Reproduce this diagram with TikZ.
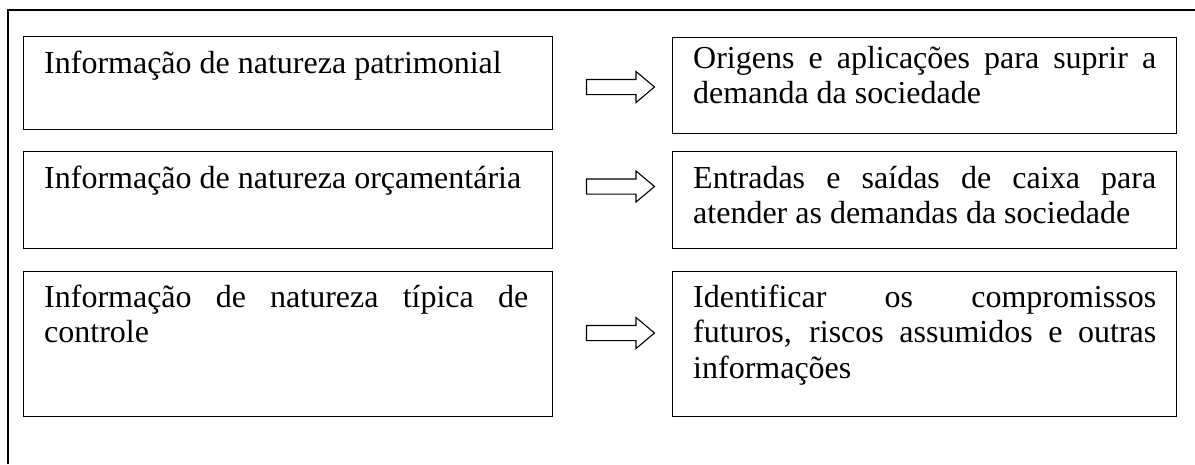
\documentclass[tikz,border=0pt]{standalone}
\usepackage{fontspec}
\setmainfont{Liberation Serif}
\usetikzlibrary{shapes.arrows}
\begin{document}
\begin{tikzpicture}[x=1pt,y=-1pt,
  frame/.style={line width=1.5pt},
  box/.style={draw, line width=1.4pt, inner sep=0pt, anchor=north west},
  txt/.style={inner sep=0pt, anchor=base west, font=\fontsize{32}{35.5}\selectfont, align=justify},
  blockarrow/.style={single arrow, draw, line width=1.1pt, inner xsep=0pt, inner ysep=7pt,
    minimum height=68pt, single arrow head extend=8pt, single arrow tip angle=80}]
\useasboundingbox (0,0) rectangle (1195,464);
\draw[frame] (8,464) -- (8,10) -- (1195,10);
% left boxes
\node[box, minimum width=529pt, minimum height=93pt] (l1) at (23,36) {};
\node[box, minimum width=529pt, minimum height=97pt] (l2) at (23,151) {};
\node[box, minimum width=529pt, minimum height=145pt] (l3) at (23,271) {};
% right boxes
\node[box, minimum width=504pt, minimum height=96pt] (r1) at (672,37) {};
\node[box, minimum width=504pt, minimum height=97pt] (r2) at (672,151) {};
\node[box, minimum width=504pt, minimum height=145pt] (r3) at (672,271) {};
% texts
\node[txt, text width=484pt] (l1t) at ([shift={(21,37)}]l1.north west) {Informação de natureza patrimonial};
\node[txt, text width=484pt] (l2t) at ([shift={(21,37)}]l2.north west) {Informação de natureza orçamentária};
\node[txt, text width=484pt] (l3t) at ([shift={(21,36)}]l3.north west) {Informação de natureza típica de\linebreak controle};
\node[txt, text width=463pt] (r1t) at ([shift={(21,31)}]r1.north west) {Origens e aplicações para suprir a\linebreak demanda da sociedade};
\node[txt, text width=463pt] (r2t) at ([shift={(21,37)}]r2.north west) {Entradas e saídas de caixa para\linebreak atender as demandas da sociedade};
\node[txt, text width=463pt] (r3t) at ([shift={(21,36)}]r3.north west) {Identificar os compromissos\linebreak futuros, riscos assumidos e outras\linebreak informações};
% arrows
\node[blockarrow] (a1) at (616,87) {};
\node[blockarrow] (a2) at (616,186.5) {};
\node[blockarrow] (a3) at (616,333) {};
\end{tikzpicture}
\end{document}
